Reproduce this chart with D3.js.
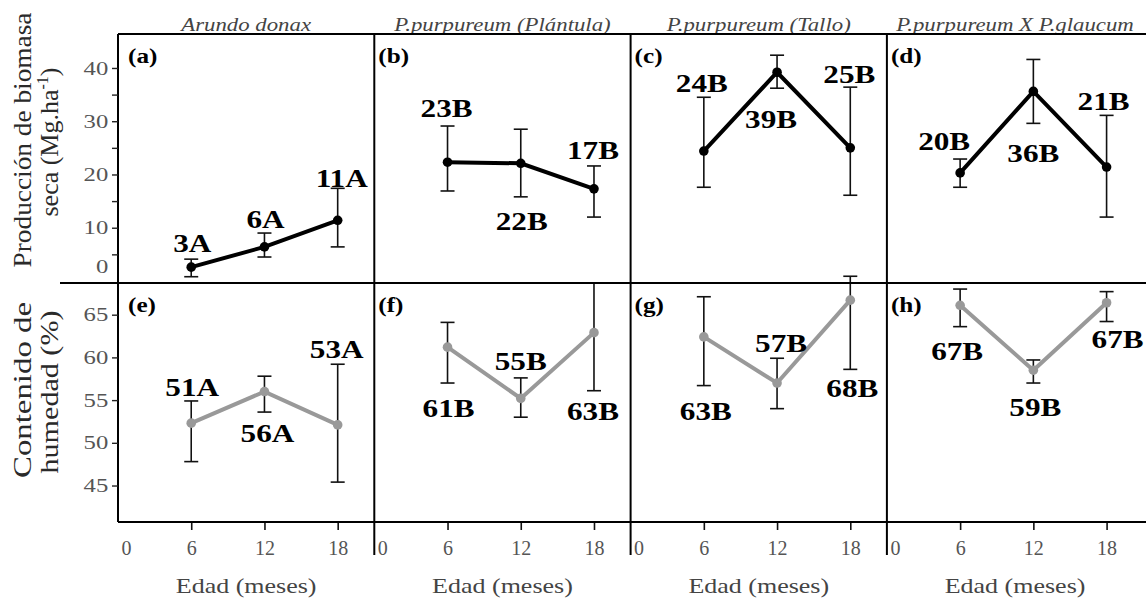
<!DOCTYPE html>
<html>
<head>
<meta charset="utf-8">
<script src="https://cdn.jsdelivr.net/npm/d3@7"></script>
<style>
  body { margin: 0; background: #fff; }
  svg { display: block; }
</style>
</head>
<body>
<div id="chart"></div>
<script>
const width = 1146;
const height = 602;

// Species (columns) and ages
const species = ['Arundo donax', 'P.purpureum (Plántula)', 'P.purpureum (Tallo)', 'P.purpureum X P.glaucum'];
const ages = [6, 12, 18];
const ageTicks = [0, 6, 12, 18];
const biomassPanels = ['(a)', '(b)', '(c)', '(d)'];
const moisturePanels = ['(e)', '(f)', '(g)', '(h)'];

// Dry biomass production (Mg.ha-1)
const biomassMean = [[2.6, 6.4, 11.4], [22.3, 22.1, 17.3], [24.4, 39.2, 25.0], [20.3, 35.6, 21.4]];
const biomassLow = [[0.8, 4.5, 6.4], [16.9, 15.8, 12.0], [17.6, 36.2, 16.1], [17.6, 29.6, 12.0]];
const biomassHigh = [[4.1, 9.0, 17.4], [29.1, 28.5, 21.6], [34.5, 42.4, 36.4], [22.9, 41.6, 31.1]];
const biomassText = [['3A', '6A', '11A'], ['23B', '22B', '17B'], ['24B', '39B', '25B'], ['20B', '36B', '21B']];
const biomassTicks = [0, 5, 10, 15, 20, 25, 30, 35, 40];

// Moisture content (%)
const moistureMean = [[52.3, 56.0, 52.1], [61.2, 55.2, 62.9], [62.4, 57.0, 66.7], [66.1, 58.5, 66.4]];
const moistureLow = [[47.8, 53.6, 45.4], [57.0, 53.0, 56.1], [56.7, 54.0, 58.6], [63.6, 57.0, 64.2]];
const moistureHigh = [[54.9, 57.8, 59.2], [64.1, 57.6, 68.7], [67.1, 59.9, 69.5], [68.0, 59.7, 67.7]];
const moistureText = [['51A', '56A', '53A'], ['61B', '55B', '63B'], ['63B', '57B', '68B'], ['67B', '59B', '67B']];
const moistureTicks = [45, 50, 55, 60, 65];

// label placement relative to the point (px): [dx, dy of baseline]
const biomassLabelPos = [[[1, -15], [1, -19], [4, -33]], [[-1, -45], [1, 67], [-1, -30]],
  [[-2, -59], [-6, 56], [-1, -65]], [[-16, -23], [0, 71], [-3, -57]]];
const moistureLabelPos = [[[1, -27], [3, 50], [-1, -67]], [[1, 70], [0, -28], [-1, 87]],
  [[2, 83], [4, -31], [2, 97]], [[-3, 55], [2, 46], [11, 45]]];

const serif = '"Liberation Serif", "Times New Roman", serif';
const left = 118, panelW = 256.3;
const top1 = 34, mid = 283, bottom = 522;

const svg = d3.select('#chart').append('svg')
  .attr('width', width)
  .attr('height', height);

svg.append('rect').attr('width', width).attr('height', height).attr('fill', '#fff');

// stretched text helper (the figure's type is wide)
function stretchText(sel, x, y, str, o = {}) {
  const g = sel.append('g')
    .attr('transform', `translate(${x},${y}) scale(${o.sx || 1.3},1)`);
  return g.append('text')
    .attr('text-anchor', o.anchor || 'middle')
    .attr('font-family', serif)
    .attr('font-size', o.size || 20)
    .attr('font-weight', o.weight || 'normal')
    .attr('font-style', o.style || 'normal')
    .attr('fill', o.fill || '#000')
    .text(str);
}

const yBio = d3.scaleLinear().domain([-0.38, 46.38]).range([mid, top1]);
const yMoist = d3.scaleLinear().domain([40.73, 68.71]).range([bottom, mid]);

const rows = [
  { y: yBio, mean: biomassMean, low: biomassLow, high: biomassHigh, text: biomassText,
    pos: biomassLabelPos, panels: biomassPanels, color: '#000', top: top1 },
  { y: yMoist, mean: moistureMean, low: moistureLow, high: moistureHigh, text: moistureText,
    pos: moistureLabelPos, panels: moisturePanels, color: '#999', top: mid }
];

species.forEach((name, c) => {
  const x0 = left + c * panelW;
  const x = d3.scaleLinear().domain([0, 21]).range([x0, x0 + panelW]);

  // column title
  stretchText(svg, x0 + panelW / 2, 31, name, { size: 19, style: 'italic', fill: '#444', sx: 1.2 });

  rows.forEach((r, ri) => {
    const g = svg.append('g');
    const pts = ages.map((a, i) => ({
      age: a, mean: r.mean[c][i], low: r.low[c][i], high: r.high[c][i],
      text: r.text[c][i], dx: r.pos[c][i][0], dy: r.pos[c][i][1]
    }));

    // panel letter
    stretchText(g, x0 + (c === 0 ? 10 : 4), r.top + 29, r.panels[c],
      { size: 21, weight: 'bold', anchor: 'start', sx: 1.2 });

    // error bars
    const eb = g.selectAll('.eb').data(pts).enter().append('g')
      .attr('stroke', '#111').attr('stroke-width', 1.6);
    eb.append('line')
      .attr('x1', d => x(d.age)).attr('x2', d => x(d.age))
      .attr('y1', d => r.y(d.low)).attr('y2', d => r.y(d.high));
    eb.append('line')
      .attr('x1', d => x(d.age) - 7).attr('x2', d => x(d.age) + 7)
      .attr('y1', d => r.y(d.low)).attr('y2', d => r.y(d.low));
    eb.append('line')
      .attr('x1', d => x(d.age) - 7).attr('x2', d => x(d.age) + 7)
      .attr('y1', d => r.y(d.high)).attr('y2', d => r.y(d.high));

    // mean line and points
    g.append('path')
      .datum(pts)
      .attr('fill', 'none')
      .attr('stroke', r.color)
      .attr('stroke-width', 4)
      .attr('d', d3.line().x(d => x(d.age)).y(d => r.y(d.mean)));

    g.selectAll('circle').data(pts).enter().append('circle')
      .attr('cx', d => x(d.age))
      .attr('cy', d => r.y(d.mean))
      .attr('r', 4.8)
      .attr('fill', r.color);

    pts.forEach(d => {
      stretchText(g, x(d.age) + d.dx, r.y(d.mean) + d.dy, d.text,
        { size: 26, weight: 'bold', sx: 1.2 });
    });
  });

  // bottom x axis
  const ax = svg.append('g')
    .attr('transform', `translate(0,${bottom})`)
    .call(d3.axisBottom(x).tickValues(ageTicks).tickSize(8).tickPadding(11));
  ax.select('.domain').remove();
  ax.selectAll('line').attr('stroke', '#111').attr('stroke-width', 1.6);
  ax.selectAll('text')
    .attr('font-family', serif).attr('font-size', 20).attr('fill', '#555');
  ax.selectAll('.tick').filter(d => d === 0).select('line').remove();
  ax.selectAll('.tick').filter(d => d === 0).select('text').attr('x', 8);

  stretchText(svg, x0 + panelW / 2, 593, 'Edad (meses)', { size: 20, fill: '#444', sx: 1.3 });

  // panel frame (left edge)
  svg.append('line')
    .attr('x1', x0).attr('x2', x0)
    .attr('y1', top1).attr('y2', c === 0 ? bottom : 555)
    .attr('stroke', '#000').attr('stroke-width', 2);
});

// horizontal frame lines
[[left, top1], [60, mid], [left, bottom]].forEach(([xs, yy]) => {
  svg.append('line')
    .attr('x1', xs).attr('x2', width).attr('y1', yy).attr('y2', yy)
    .attr('stroke', '#000').attr('stroke-width', 2);
});

// y axes
const yAxisTop = svg.append('g')
  .attr('transform', `translate(${left},0)`)
  .call(d3.axisLeft(yBio).tickValues(biomassTicks).tickSize(6)
    .tickFormat(d => d % 10 === 0 ? d : ''));
const yAxisBottom = svg.append('g')
  .attr('transform', `translate(${left},0)`)
  .call(d3.axisLeft(yMoist).tickValues(moistureTicks).tickSize(6));

[yAxisTop, yAxisBottom].forEach(a => {
  a.select('.domain').remove();
  a.selectAll('line').attr('stroke', '#222').attr('stroke-width', 1.4);
  a.selectAll('text')
    .attr('font-family', serif).attr('font-size', 19).attr('fill', '#555')
    .attr('x', -7.5)
    .attr('transform', 'scale(1.3,1)');
});
// the zero label of the biomass axis sits above the frame line
yAxisTop.selectAll('.tick').filter(d => d === 0).select('line').remove();
yAxisTop.selectAll('.tick').filter(d => d === 0).select('text').attr('dy', '-0.45em');

// y axis titles
function yTitle(x, y, str, len, sup) {
  const t = svg.append('text')
    .attr('transform', `translate(${x},${y}) rotate(-90)`)
    .attr('text-anchor', 'middle')
    .attr('font-family', serif)
    .attr('font-size', 26)
    .attr('fill', '#2a2a2a');
  if (sup) {
    t.append('tspan').text(str);
    t.append('tspan').attr('font-size', 16).attr('dy', -10).text(sup);
    t.append('tspan').attr('dy', 10).text(')');
  } else {
    t.text(str);
  }
  if (len) t.attr('textLength', len).attr('lengthAdjust', 'spacingAndGlyphs');
  return t;
}
yTitle(31, 140, 'Producción de biomasa', 255);
yTitle(58, 142, 'seca (Mg.ha', null, '-1');
yTitle(31, 390, 'Contenido de', 176);
yTitle(58, 392, 'humedad (%)', 163);
</script>
</body>
</html>
